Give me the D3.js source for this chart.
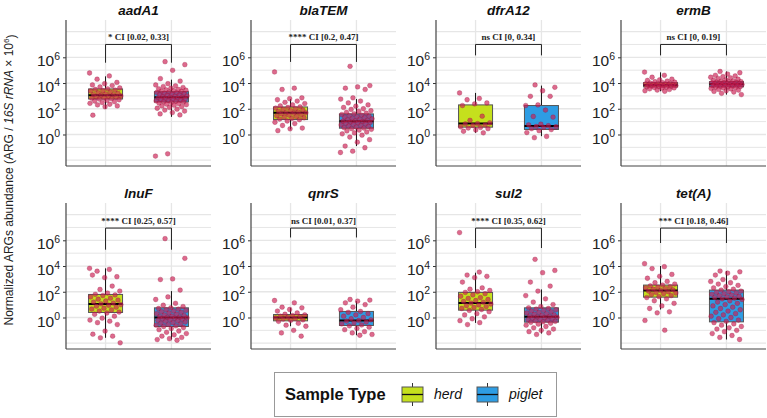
<!DOCTYPE html>
<html>
<head>
<meta charset="utf-8">
<script src="https://cdn.jsdelivr.net/npm/d3@7"></script>
<style>
  body { margin: 0; background: #fff; }
  text { font-family: Arial, "Liberation Sans", sans-serif; }
</style>
</head>
<body>
<svg id="chart" width="767" height="418"></svg>
<script>
// genes shown, one panel each (values are log10 abundance)
const genes = ["aadA1", "blaTEM", "dfrA12", "ermB", "lnuF", "qnrS", "sul2", "tet(A)"];
const groups = ["herd", "piglet"];

const herdPts = [
  [4.78,4.55,4.3,4.05,3.95,3.85,3.8,3.7,3.62,3.55,3.5,3.45,3.4,3.38,3.3,3.25,3.2,3.15,3.1,3.08,3.05,3.0,2.97,2.93,2.9,2.85,2.82,2.78,2.75,2.7,2.66,2.6,2.55,2.48,2.42,2.35,2.3,2.22,2.15,1.5],
  [4.86,3.6,3.5,2.85,2.78,2.7,2.6,2.5,2.4,2.3,2.22,2.15,2.1,2.05,2.0,1.95,1.9,1.86,1.8,1.75,1.7,1.68,1.65,1.6,1.55,1.5,1.45,1.4,1.35,1.3,1.25,1.2,1.15,1.05,0.95,0.85,0.7,0.5,0.44,0.3],
  [3.23,2.8,2.7,2.45,2.38,2.25,1.42,1.1,0.9,0.85,0.82,0.75,0.7,0.6,0.55,0.5,0.45,0.35,0.25,0.13],
  [4.85,4.6,4.45,4.3,4.25,4.2,4.15,4.1,4.06,4.02,4.0,3.98,3.96,3.94,3.92,3.9,3.88,3.86,3.85,3.84,3.82,3.8,3.78,3.76,3.74,3.72,3.7,3.68,3.65,3.62,3.6,3.55,3.5,3.45,3.4,3.36],
  [3.82,3.74,3.6,3.17,3.1,3.3,2.44,2.18,2.05,1.9,1.8,1.75,1.7,1.6,1.5,1.42,1.35,1.28,1.2,1.12,1.06,1.0,0.95,0.88,0.8,0.72,0.65,0.58,0.5,0.42,0.35,0.25,0.1,-0.05,-0.2,-0.29,-0.4,-0.55,-1.06,-1.3,-1.45,-1.58,-1.97],
  [1.32,1.14,0.8,0.75,0.62,0.5,0.35,0.25,0.2,0.15,0.1,0.05,0.0,-0.03,-0.08,-0.12,-0.18,-0.22,-0.3,-0.45,-0.6,-0.68,-1.0,-1.2,-1.45],
  [6.6,3.53,3.3,3.2,3.1,2.75,2.3,2.2,2.1,2.0,1.95,1.85,1.75,1.65,1.55,1.48,1.4,1.32,1.25,1.18,1.12,1.05,0.98,0.92,0.85,0.78,0.7,0.62,0.55,0.45,0.3,0.2,0.05,-0.1,-0.25,-0.4,-0.55],
  [4.18,3.95,3.8,3.35,3.2,3.05,2.8,2.7,2.6,2.52,2.45,2.4,2.35,2.3,2.25,2.2,2.15,2.1,2.05,2.0,1.95,1.9,1.85,1.78,1.7,1.62,1.55,1.45,1.3,1.1,0.9,0.7,0.44,0.36,-0.23,-0.99]
];

const pigletPts = [
  [5.66,5.43,4.99,4.34,4.15,3.95,3.85,3.78,3.72,3.65,3.6,3.55,3.5,3.47,3.44,3.4,3.37,3.34,3.3,3.27,3.24,3.2,3.17,3.14,3.1,3.07,3.04,3.0,2.97,2.94,2.91,2.88,2.85,2.82,2.79,2.76,2.73,2.7,2.67,2.64,2.61,2.58,2.55,2.52,2.48,2.44,2.4,2.36,2.32,2.28,2.22,2.16,2.1,2.04,1.97,1.9,1.82,1.7,1.6,1.52,-1.5,-1.68],
  [5.3,3.8,3.7,3.6,3.5,2.85,2.75,2.6,2.45,2.3,2.2,2.1,2.0,1.95,1.85,1.8,1.72,1.65,1.6,1.55,1.5,1.46,1.42,1.38,1.34,1.3,1.26,1.22,1.18,1.14,1.1,1.06,1.03,1.0,0.97,0.94,0.9,0.86,0.82,0.78,0.74,0.7,0.66,0.62,0.58,0.54,0.5,0.45,0.4,0.34,0.28,0.2,0.12,0.05,-0.05,-0.2,-0.4,-0.6,-0.9,-1.03,-1.3,-1.4],
  [3.85,3.67,3.4,2.97,2.97,2.3,2.25,1.9,1.4,1.35,0.8,0.75,0.68,0.62,0.6,0.55,0.45,0.38,0.3,0.15,-0.15,-0.25],
  [4.9,4.8,4.7,4.6,4.55,4.5,4.45,4.4,4.35,4.3,4.25,4.2,4.17,4.14,4.11,4.09,4.07,4.05,4.03,4.01,3.99,3.97,3.95,3.94,3.93,3.92,3.9,3.88,3.86,3.84,3.82,3.8,3.78,3.76,3.74,3.72,3.7,3.68,3.65,3.62,3.58,3.54,3.5,3.45,3.4,3.35,3.3,3.2,3.1],
  [6.13,4.6,3.0,2.95,2.13,1.6,1.4,1.1,0.95,0.85,0.75,0.7,0.65,0.6,0.55,0.5,0.45,0.4,0.35,0.3,0.25,0.2,0.15,0.1,0.06,0.02,0.0,-0.03,-0.06,-0.1,-0.14,-0.18,-0.22,-0.26,-0.3,-0.35,-0.4,-0.45,-0.5,-0.55,-0.6,-0.65,-0.7,-0.78,-0.86,-0.95,-1.05,-1.15,-1.25,-1.35,-1.45,-1.55,-1.65,-1.72,-1.77],
  [1.4,1.35,1.27,1.14,1.0,0.8,0.6,0.47,0.4,0.3,0.2,0.1,0.0,-0.1,-0.18,-0.23,-0.28,-0.35,-0.42,-0.5,-0.58,-0.65,-0.75,-0.85,-0.95,-1.1,-1.2,-1.32,-1.38],
  [4.52,3.66,3.48,2.75,2.44,2.05,1.7,1.45,1.2,1.0,0.85,0.75,0.7,0.65,0.6,0.55,0.5,0.45,0.4,0.35,0.3,0.25,0.2,0.16,0.12,0.08,0.05,0.02,-0.02,-0.06,-0.1,-0.14,-0.18,-0.22,-0.26,-0.3,-0.34,-0.38,-0.45,-0.52,-0.6,-0.7,-0.8,-0.9,-1.0,-1.1,-1.2,-1.32],
  [3.61,3.55,3.45,3.3,3.1,2.95,2.8,2.7,2.6,2.5,2.4,2.3,2.2,2.13,2.05,2.0,1.95,1.9,1.85,1.8,1.75,1.7,1.65,1.6,1.55,1.5,1.45,1.4,1.3,1.2,1.1,1.0,0.9,0.8,0.7,0.6,0.5,0.4,0.3,0.2,0.1,0.0,-0.1,-0.2,-0.3,-0.4,-0.5,-0.6,-0.7,-0.8,-0.9,-1.0,-1.1,-1.25,-1.4,-1.55,-1.71]
];

// box stats [lower whisker, q1, median, q3, upper whisker], log10
const herdBox = [
  [2.0,2.76,3.05,3.54,4.52], [0.39,1.16,1.68,2.14,2.76], [0.13,0.57,0.85,2.3,3.23], [3.36,3.7,3.85,4.03,4.83],
  [-1.58,0.39,1.04,1.79,3.82], [-0.68,-0.26,0.0,0.23,0.75], [-0.42,0.57,1.12,1.95,3.48], [0.62,1.58,2.1,2.52,4.0]
];
const pigletBox = [
  [1.37,2.53,2.9,3.33,4.26], [-0.9,0.49,1.03,1.6,2.76], [-0.13,0.39,0.65,2.25,3.8], [3.1,3.7,3.93,4.11,4.9],
  [-1.71,-0.7,0.0,0.75,2.05], [-1.38,-0.62,-0.23,0.47,1.27], [-1.25,-0.36,0.05,0.75,2.18], [-1.71,-0.34,1.45,2.13,3.61]
];

// significance labels and bracket heights (log10)
const sigLabels = ["* CI [0.02, 0.33]", "**** CI [0.2, 0.47]", "ns CI [0, 0.34]", "ns CI [0, 0.19]",
                   "**** CI [0.25, 0.57]", "ns CI [0.01, 0.37]", "**** CI [0.35, 0.62]", "*** CI [0.18, 0.46]"];
const bracketTop = [7, 7, 7, 7, 6.95, 6.95, 6.95, 6.95];
const bracketTip = [5.58, 5.64, 6.15, 6.15, 5.27, 6.22, 5.4, 5.79];

const yTicks = [1, 1e2, 1e4, 1e6];
const colors = { herd: "#c5e01d", piglet: "#2e9de4" };

const svg = d3.select("#chart");
const pw = 145, ph = 146;
const lefts = [66, 251, 436, 621];
const tops = [20, 203];

const x = d3.scalePoint().domain(groups).range([0, pw]).padding(0.6);
const y = d3.scaleLog().domain([Math.pow(10, -2.45), Math.pow(10, 8.9)]).range([ph, 0]);
const p10 = v => Math.pow(10, v);

genes.forEach((gene, gi) => {
  const g = svg.append("g")
    .attr("transform", `translate(${lefts[gi % 4]},${tops[Math.floor(gi / 4)]})`);

  // grid
  d3.range(-2, 9).forEach(e => {
    g.append("line").attr("x1", 0).attr("x2", pw)
      .attr("y1", y(p10(e))).attr("y2", y(p10(e)))
      .attr("stroke", "#e6e6e6").attr("stroke-width", e % 2 == 0 ? 1.3 : 1);
  });
  groups.forEach(k => {
    g.append("line").attr("x1", x(k)).attr("x2", x(k)).attr("y1", 0).attr("y2", ph)
      .attr("stroke", "#e6e6e6").attr("stroke-width", 1.3);
  });

  // strip title
  g.append("text").attr("x", pw / 2).attr("y", -5).attr("text-anchor", "middle")
    .attr("font-size", "13.5px").attr("font-weight", "bold").attr("font-style", "italic")
    .attr("fill", "#111").text(gene);

  // y axis
  const ax = g.append("g").call(d3.axisLeft(y).tickValues(yTicks).tickSize(3).tickPadding(3));
  ax.select(".domain").remove();
  ax.selectAll(".tick line").attr("stroke", "#333");
  ax.selectAll(".tick text").each(function (d) {
    const t = d3.select(this);
    t.text("10").attr("font-size", "15.5px").attr("fill", "#222").attr("dy", "0.55em");
    t.append("tspan").attr("dy", "-0.6em").attr("font-size", "10.5px")
      .text(Math.round(Math.log10(d)));
  });
  g.append("line").attr("x1", 0).attr("x2", 0).attr("y1", 0).attr("y2", ph)
    .attr("stroke", "#444").attr("stroke-width", 1.2);
  g.append("line").attr("x1", 0).attr("x2", pw).attr("y1", ph).attr("y2", ph)
    .attr("stroke", "#444").attr("stroke-width", 1.2);

  // boxes
  const bw = 34;
  [herdBox[gi], pigletBox[gi]].forEach((b, k) => {
    const cx = x(groups[k]);
    g.append("line").attr("x1", cx).attr("x2", cx)
      .attr("y1", y(p10(b[0]))).attr("y2", y(p10(b[4])))
      .attr("stroke", "#111").attr("stroke-width", 1);
    g.append("rect").attr("x", cx - bw / 2).attr("width", bw)
      .attr("y", y(p10(b[3]))).attr("height", y(p10(b[1])) - y(p10(b[3])))
      .attr("fill", colors[groups[k]]).attr("stroke", "#555").attr("stroke-width", 1);
    g.append("line").attr("x1", cx - bw / 2).attr("x2", cx + bw / 2)
      .attr("y1", y(p10(b[2]))).attr("y2", y(p10(b[2])))
      .attr("stroke", "#000").attr("stroke-width", 2);
  });

  // points (deterministic jitter)
  [herdPts[gi], pigletPts[gi]].forEach((pts, k) => {
    g.selectAll(null).data(pts).enter().append("circle")
      .attr("cx", (d, i) => x(groups[k]) + (((i * 0.618034 + k * 0.3) % 1) - 0.5) * 32)
      .attr("cy", d => y(p10(d)))
      .attr("r", 2.4)
      .attr("fill", "#cc1d52").attr("fill-opacity", 0.66)
      .attr("stroke", "#8a0f35").attr("stroke-opacity", 0.5).attr("stroke-width", 0.5);
  });

  // significance bracket
  const yt = y(p10(bracketTop[gi])), yb = y(p10(bracketTip[gi]));
  g.append("path")
    .attr("d", `M${x("herd")},${yb}V${yt}H${x("piglet")}V${yb}`)
    .attr("fill", "none").attr("stroke", "#222").attr("stroke-width", 1);
  g.append("text").attr("x", (x("herd") + x("piglet")) / 2).attr("y", yt - 4)
    .attr("text-anchor", "middle").attr("font-size", "9px").attr("font-weight", "bold")
    .style("font-family", "'Liberation Serif', 'Times New Roman', serif")
    .attr("fill", "#222").text(sigLabels[gi]);
});

// y axis title
const yt = svg.append("text")
  .attr("transform", "translate(13,180) rotate(-90)")
  .attr("text-anchor", "middle").attr("font-size", "12px").attr("fill", "#222");
yt.append("tspan").text("Normalized ARGs abundance (ARG / ");
yt.append("tspan").attr("font-style", "italic").text("16S rRNA");
yt.append("tspan").text(" \u00d7 10");
yt.append("tspan").attr("dy", "-0.5em").attr("font-size", "8px").text("6");
yt.append("tspan").attr("dy", "0.5em").text(")");

// legend
const lg = svg.append("g");
lg.append("rect").attr("x", 274.5).attr("y", 372.5).attr("width", 282).attr("height", 44)
  .attr("fill", "#fff").attr("stroke", "#999").attr("stroke-width", 1);
lg.append("text").attr("x", 285).attr("y", 400).attr("font-size", "16.5px")
  .attr("font-weight", "bold").attr("fill", "#111").text("Sample Type");
const keyX = [402, 477];
groups.forEach((k, i) => {
  const kx = keyX[i];
  lg.append("line").attr("x1", kx + 10.5).attr("x2", kx + 10.5).attr("y1", 383).attr("y2", 406)
    .attr("stroke", "#333");
  lg.append("rect").attr("x", kx).attr("y", 387).attr("width", 21).attr("height", 15)
    .attr("fill", colors[k]).attr("stroke", "#555");
  lg.append("line").attr("x1", kx).attr("x2", kx + 21).attr("y1", 394.5).attr("y2", 394.5)
    .attr("stroke", "#111").attr("stroke-width", 1.3);
  lg.append("text").attr("x", kx + 32).attr("y", 399).attr("font-size", "14px")
    .attr("font-style", "italic").attr("fill", "#111").text(k);
});
</script>
</body>
</html>
